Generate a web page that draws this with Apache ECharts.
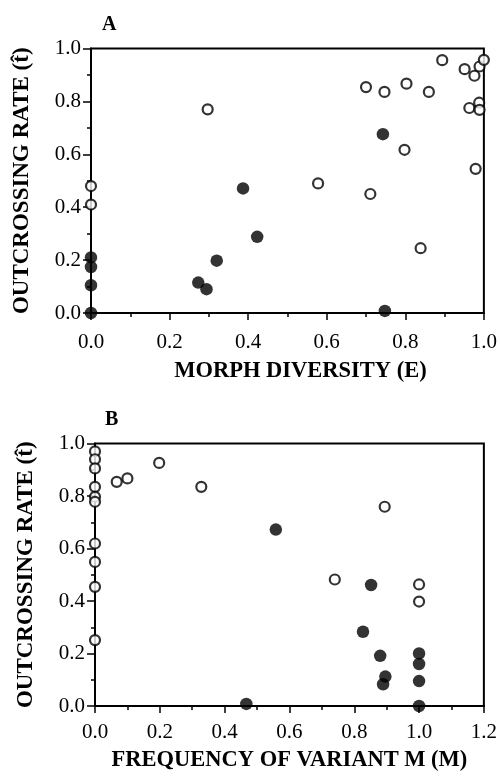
<!DOCTYPE html>
<html>
<head>
<meta charset="utf-8">
<script src="https://cdn.jsdelivr.net/npm/echarts@6/dist/echarts.min.js"></script>
<style>
  html, body { margin: 0; padding: 0; background: #fff; }
  #chart { width: 500px; height: 778px; }
</style>
</head>
<body>
<div id="chart"></div>
<script>
// Panel A: outcrossing rate vs morph diversity (E)
var morphOpen = [
  [0, 0.48], [0, 0.41], [0.297, 0.77], [0.578, 0.49], [0.711, 0.45],
  [0.839, 0.245], [0.798, 0.617], [0.979, 0.545], [0.700, 0.854],
  [0.747, 0.836], [0.803, 0.867], [0.860, 0.836], [0.894, 0.956],
  [0.951, 0.922], [0.976, 0.897], [0.989, 0.932], [1.0, 0.957],
  [0.963, 0.775], [0.988, 0.795], [0.989, 0.768]
];
var morphFilled = [
  [0, 0.21], [0, 0.174], [0, 0.105], [0, 0], [0.273, 0.115], [0.294, 0.09],
  [0.32, 0.198], [0.387, 0.471], [0.423, 0.288], [0.743, 0.676], [0.748, 0.008]
];

// Panel B: outcrossing rate vs frequency of variant M
var freqOpen = [
  [0, 0.97], [0, 0.94], [0, 0.905], [0, 0.835], [0, 0.797], [0, 0.778],
  [0, 0.619], [0, 0.549], [0, 0.454], [0, 0.251],
  [0.067, 0.854], [0.1, 0.867], [0.198, 0.926], [0.328, 0.835],
  [0.894, 0.759], [0.74, 0.482], [1.0, 0.463], [1.0, 0.398]
];
var freqFilled = [
  [0.467, 0.008], [0.558, 0.672], [0.852, 0.461], [0.827, 0.283],
  [0.88, 0.191], [0.896, 0.112], [0.889, 0.083],
  [1.0, 0.2], [1.0, 0.16], [1.0, 0.095], [1.0, 0.0]
];

var panelTitles = ['A', 'B'];
var xNames = ['MORPH DIVERSITY (E)', 'FREQUENCY OF VARIANT M (M)'];
var yName = 'OUTCROSSING RATE (t\u0302)';
var xMax = [1.0, 1.2];

var serif = '"Liberation Serif", "DejaVu Serif", serif';
var black = '#000';

function fmt(v) { return v.toFixed(1); }

function xAxisFor(i, margin, gap, shift) {
  return {
    type: 'value', gridIndex: i, min: 0, max: xMax[i], interval: 0.2,
    name: xNames[i], nameLocation: 'middle', nameGap: gap,
    nameTextStyle: { fontFamily: serif, fontWeight: 'bold', fontSize: 22.5, color: black,
      padding: [0, 0, 0, shift] },
    axisLine: { show: true, onZero: false, lineStyle: { color: black, width: 2 } },
    axisTick: { show: true, length: 7, lineStyle: { color: black, width: 1.5 } },
    minorTick: { show: true, splitNumber: 2, length: 4, lineStyle: { color: black, width: 1.5 } },
    axisLabel: { fontFamily: serif, fontSize: 21, color: black, margin: margin, formatter: fmt },
    splitLine: { show: false }
  };
}

function yAxisFor(i) {
  return {
    type: 'value', gridIndex: i, min: 0, max: 1, interval: 0.2,
    name: yName, nameLocation: 'middle', nameGap: 57,
    nameTextStyle: { fontFamily: serif, fontWeight: 'bold', fontSize: 23, color: black },
    axisLine: { show: true, onZero: false, lineStyle: { color: black, width: 2 } },
    axisTick: { show: true, length: 8, lineStyle: { color: black, width: 1.5 } },
    minorTick: { show: true, splitNumber: 2, length: 4, lineStyle: { color: black, width: 1.5 } },
    axisLabel: { fontFamily: serif, fontSize: 21, color: black, margin: 10, formatter: fmt },
    splitLine: { show: false }
  };
}

function openSeries(i, data) {
  return {
    type: 'scatter', xAxisIndex: i, yAxisIndex: i, data: data, clip: false,
    symbol: 'circle', symbolSize: 10,
    itemStyle: { color: '#fff', borderColor: black, borderWidth: 2.2 },
    z: 3
  };
}

function filledSeries(i, data) {
  return {
    type: 'scatter', xAxisIndex: i, yAxisIndex: i, data: data, clip: false,
    symbol: 'circle', symbolSize: 12.5,
    itemStyle: { color: black },
    z: 4
  };
}

var option = {
  animation: false,
  backgroundColor: '#fff',
  title: [
    { text: panelTitles[0], left: 97, top: 10,
      textStyle: { fontFamily: serif, fontWeight: 'bold', fontSize: 20, color: black } },
    { text: panelTitles[1], left: 100, top: 405,
      textStyle: { fontFamily: serif, fontWeight: 'bold', fontSize: 20, color: black } }
  ],
  grid: [
    { left: 91, right: 14, top: 48.5, height: 264.5,
      show: true, borderColor: black, borderWidth: 2 },
    { left: 95, right: 14, top: 443.5, height: 262.5,
      show: true, borderColor: black, borderWidth: 2 }
  ],
  xAxis: [xAxisFor(0, 19, 47, 26), xAxisFor(1, 16, 43, 0)],
  yAxis: [yAxisFor(0), yAxisFor(1)],
  series: [
    openSeries(0, morphOpen), filledSeries(0, morphFilled),
    openSeries(1, freqOpen), filledSeries(1, freqFilled)
  ]
};

var chart = echarts.init(document.getElementById('chart'));
chart.setOption(option);
</script>
</body>
</html>
